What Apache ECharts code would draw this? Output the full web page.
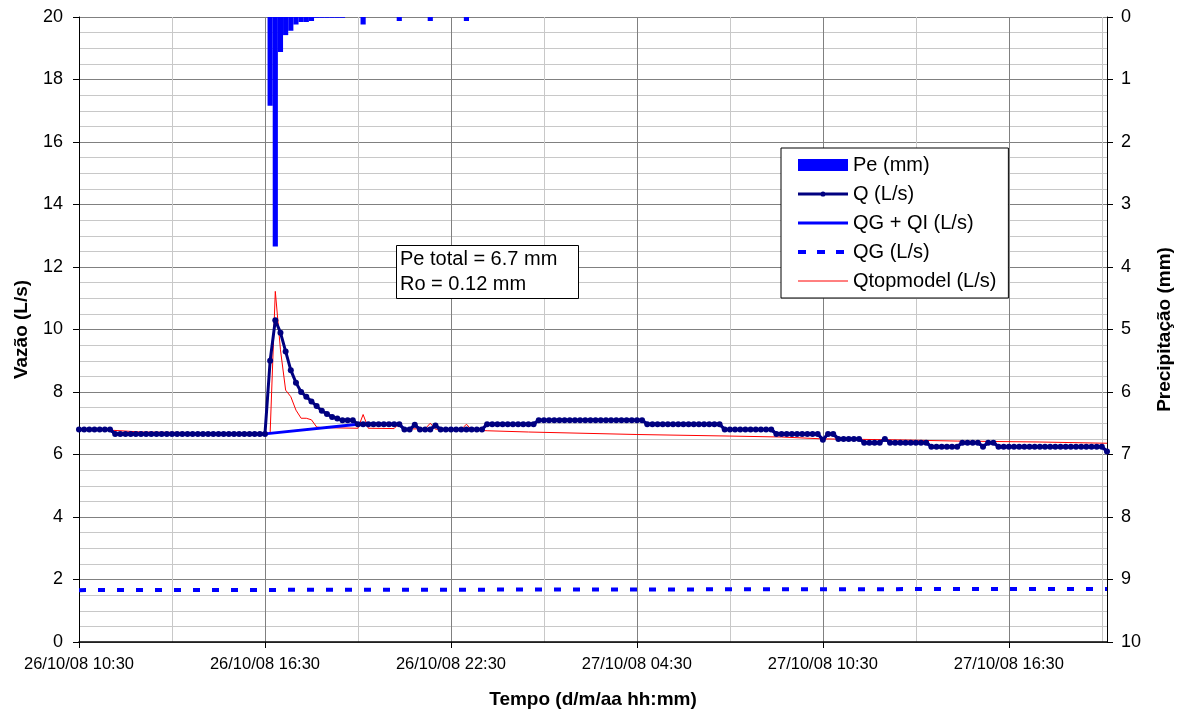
<!DOCTYPE html>
<html>
<head>
<meta charset="utf-8">
<title>Vazão e precipitação</title>
<script src="https://cdn.jsdelivr.net/npm/echarts@6/dist/echarts.min.js"></script>
<style>
  html, body { margin: 0; padding: 0; background: #fff; }
  #main { width: 1187px; height: 716px; }
</style>
</head>
<body>
<div id="main"></div>
<script>
// eixo do tempo: de 10 em 10 minutos, 26/10/08 10:30 ate 27/10/08 19:40
var inicioMin = 10 * 60 + 30;
var passoMin = 10;
var nPassos = 200;

function rotulo(m) {
    var dia = 26 + Math.floor(m / 1440);
    var r = m % 1440;
    var hh = Math.floor(r / 60), mm = r % 60;
    return dia + '/10/08 ' + (hh < 10 ? '0' : '') + hh + ':' + (mm < 10 ? '0' : '') + mm;
}

var tempo = [];
for (var i = 0; i < nPassos; i++) {
    tempo.push(rotulo(inicioMin + i * passoMin));
}

// Q (L/s) observado, um valor por passo de 10 min
var vazaoQ = [
    6.8, 6.8, 6.8, 6.8, 6.8, 6.8, 6.8, 6.66, 6.66, 6.66, 6.66, 6.66,
    6.66, 6.66, 6.66, 6.66, 6.66, 6.66, 6.66, 6.66, 6.66, 6.66, 6.66, 6.66,
    6.66, 6.66, 6.66, 6.66, 6.66, 6.66, 6.66, 6.66, 6.66, 6.66, 6.66, 6.66,
    6.66, 9.0, 10.3, 9.9, 9.3, 8.7, 8.3, 8.0, 7.85, 7.7, 7.55, 7.4,
    7.3, 7.2, 7.15, 7.1, 7.1, 7.1, 6.97, 6.97, 6.97, 6.97, 6.97, 6.97,
    6.97, 6.97, 6.97, 6.8, 6.8, 6.95, 6.8, 6.8, 6.8, 6.93, 6.8, 6.8,
    6.8, 6.8, 6.8, 6.8, 6.8, 6.8, 6.8, 6.97, 6.97, 6.97, 6.97, 6.97,
    6.97, 6.97, 6.97, 6.97, 6.97, 7.1, 7.1, 7.1, 7.1, 7.1, 7.1, 7.1,
    7.1, 7.1, 7.1, 7.1, 7.1, 7.1, 7.1, 7.1, 7.1, 7.1, 7.1, 7.1,
    7.1, 7.1, 6.97, 6.97, 6.97, 6.97, 6.97, 6.97, 6.97, 6.97, 6.97, 6.97,
    6.97, 6.97, 6.97, 6.97, 6.97, 6.8, 6.8, 6.8, 6.8, 6.8, 6.8, 6.8,
    6.8, 6.8, 6.8, 6.66, 6.66, 6.66, 6.66, 6.66, 6.66, 6.66, 6.66, 6.66,
    6.47, 6.66, 6.66, 6.5, 6.5, 6.5, 6.5, 6.5, 6.38, 6.38, 6.38, 6.38,
    6.5, 6.38, 6.38, 6.38, 6.38, 6.38, 6.38, 6.38, 6.38, 6.25, 6.25, 6.25,
    6.25, 6.25, 6.25, 6.38, 6.38, 6.38, 6.38, 6.25, 6.38, 6.38, 6.25, 6.25,
    6.25, 6.25, 6.25, 6.25, 6.25, 6.25, 6.25, 6.25, 6.25, 6.25, 6.25, 6.25,
    6.25, 6.25, 6.25, 6.25, 6.25, 6.25, 6.25, 6.1
];

// Pe (mm) - so os passos com chuva
var peTempo = [
    '26/10/08 16:40', '26/10/08 16:50', '26/10/08 17:00', '26/10/08 17:10',
    '26/10/08 17:20', '26/10/08 17:30', '26/10/08 17:40', '26/10/08 17:50',
    '26/10/08 18:00', '26/10/08 18:10', '26/10/08 18:20', '26/10/08 18:30',
    '26/10/08 18:40', '26/10/08 18:50', '26/10/08 19:00', '26/10/08 19:40',
    '26/10/08 20:50', '26/10/08 21:50', '26/10/08 23:00'
];
var peValor = [
    1.42, 3.67, 0.56, 0.29,
    0.22, 0.12, 0.08, 0.08,
    0.064, 0.013, 0.013, 0.013,
    0.013, 0.013, 0.013, 0.12,
    0.064, 0.064, 0.064
];

// Qtopmodel (L/s)
var qtopTempo = [
    '26/10/08 10:30', '26/10/08 11:30', '26/10/08 12:30', '26/10/08 16:40',
    '26/10/08 16:50', '26/10/08 17:00', '26/10/08 17:10', '26/10/08 17:20',
    '26/10/08 17:30', '26/10/08 17:40', '26/10/08 17:50', '26/10/08 18:00',
    '26/10/08 18:10', '26/10/08 18:20', '26/10/08 19:30', '26/10/08 19:40',
    '26/10/08 19:50', '26/10/08 20:40', '26/10/08 20:50', '26/10/08 21:00',
    '26/10/08 21:40', '26/10/08 21:50', '26/10/08 22:00', '26/10/08 22:50',
    '26/10/08 23:00', '26/10/08 23:10', '26/10/08 23:40', '27/10/08 01:00',
    '27/10/08 04:30', '27/10/08 07:30', '27/10/08 09:10', '27/10/08 10:30',
    '27/10/08 12:50', '27/10/08 14:50', '27/10/08 17:30', '27/10/08 19:40'
];
var qtopValor = [
    6.8, 6.78, 6.72, 6.68,
    11.22, 9.35, 8.06, 7.85,
    7.42, 7.16, 7.16, 7.11,
    6.88, 6.86, 6.84, 7.28,
    6.84, 6.83, 7.0, 6.82,
    6.82, 7.0, 6.81, 6.8,
    6.97, 6.79, 6.76, 6.72,
    6.64, 6.59, 6.56, 6.5,
    6.47, 6.43, 6.4, 6.36
];

// QG (L/s)
var qgTempo = ['26/10/08 10:30', '27/10/08 19:40'];
var qgValor = [1.66, 1.7];

// QG + QI: igual a Q fora do evento; no evento liga 16:30 a 19:30
var eventoIni = '26/10/08 16:30', eventoFim = '26/10/08 19:30';

function pares(t, v) {
    return t.map(function (x, k) { return [x, v[k]]; });
}

var iIni = tempo.indexOf(eventoIni), iFim = tempo.indexOf(eventoFim);
var qgqi = vazaoQ.map(function (v, k) {
    return (k > iIni && k < iFim) ? null : v;
});

var fonte = '"Liberation Sans", Arial, sans-serif';
var semSimbolo = { opacity: 0 };
// linha com bolinha pequena para a legenda do Q
var iconeQ = 'path://M0,0L0,0Z M0,12L0,12Z M0,4.5L50,4.5L50,7.5L0,7.5Z M25,3.4A2.6,2.6,0,1,1,25,8.6A2.6,2.6,0,1,1,25,3.4Z';

var chart = echarts.init(document.getElementById('main'));

var option = {
    backgroundColor: '#ffffff',
    animation: false,
    textStyle: { fontFamily: fonte, color: '#000' },
    title: {
        text: 'Pe total = 6.7 mm\nRo = 0.12 mm',
        left: 396,
        top: 245,
        padding: [2, 21, 2, 4],
        backgroundColor: '#fff',
        borderColor: '#000',
        borderWidth: 1,
        textStyle: { fontFamily: fonte, fontSize: 20, fontWeight: 'normal', lineHeight: 25, color: '#000' }
    },
    legend: {
        orient: 'vertical',
        left: 781,
        top: 148,
        padding: [7, 12, 7, 15],
        itemWidth: 50,
        itemHeight: 12,
        itemGap: 9,
        backgroundColor: '#fff',
        borderColor: '#000',
        borderWidth: 1,
        borderRadius: 0,
        textStyle: { fontFamily: fonte, fontSize: 20, lineHeight: 20, color: '#000' },
        data: [
            { name: 'Pe (mm)', icon: 'rect' },
            { name: 'Q (L/s)', icon: iconeQ },
            { name: 'QG + QI (L/s)', itemStyle: semSimbolo, lineStyle: { width: 3 } },
            { name: 'QG (L/s)', itemStyle: semSimbolo, lineStyle: { width: 4, type: [8, 11] } },
            { name: 'Qtopmodel (L/s)', itemStyle: semSimbolo, lineStyle: { width: 1 } }
        ]
    },
    grid: {
        left: 79,
        right: 80,
        top: 17,
        bottom: 74,
        containLabel: false,
        outerBoundsMode: 'none'
    },
    xAxis: {
        type: 'category',
        data: tempo,
        boundaryGap: false,
        name: 'Tempo (d/m/aa hh:mm)',
        nameLocation: 'middle',
        nameGap: 48,
        nameTextStyle: { fontFamily: fonte, fontSize: 19, fontWeight: 'bold', color: '#000' },
        axisLine: { lineStyle: { color: '#000', width: 1.5 } },
        axisTick: { interval: 35, length: 6, lineStyle: { color: '#000' } },
        axisLabel: {
            interval: 35,
            hideOverlap: false,
            margin: 14,
            fontSize: 16.5,
            color: '#000',
            fontFamily: fonte
        },
        splitLine: {
            show: true,
            interval: 17,
            lineStyle: { color: ['#808080', '#c8c8c8'], width: 1 }
        }
    },
    yAxis: [{
        type: 'value',
        min: 0,
        max: 20,
        interval: 2,
        name: 'Vazão (L/s)',
        nameLocation: 'middle',
        nameGap: 48,
        nameTextStyle: { fontFamily: fonte, fontSize: 19, fontWeight: 'bold', color: '#000' },
        axisLine: { show: true, lineStyle: { color: '#000', width: 1 } },
        axisTick: { show: true, length: 6, lineStyle: { color: '#000' } },
        axisLabel: { fontSize: 18, color: '#000', margin: 16, fontFamily: fonte },
        splitLine: { show: true, lineStyle: { color: '#808080', width: 1 } },
        minorTick: { show: false, splitNumber: 4 },
        minorSplitLine: { show: true, lineStyle: { color: '#c8c8c8', width: 1 } }
    }, {
        type: 'value',
        min: 0,
        max: 10,
        interval: 1,
        inverse: true,
        position: 'right',
        name: 'Precipitação (mm)',
        nameLocation: 'middle',
        nameGap: 48,
        nameTextStyle: { fontFamily: fonte, fontSize: 19, fontWeight: 'bold', color: '#000' },
        axisLine: { show: true, lineStyle: { color: '#000', width: 1 } },
        axisTick: { show: true, length: 6, lineStyle: { color: '#000' } },
        axisLabel: { fontSize: 18, color: '#000', margin: 14, fontFamily: fonte },
        splitLine: { show: false }
    }],
    series: [{
        name: 'Pe (mm)',
        type: 'bar',
        yAxisIndex: 1,
        data: pares(peTempo, peValor),
        barCategoryGap: '0%',
        barWidth: '100%',
        itemStyle: { color: '#0000ff' }
    }, {
        name: 'QG (L/s)',
        type: 'line',
        data: pares(qgTempo, qgValor),
        symbol: 'none',
        lineStyle: { color: '#0000ff', width: 4, type: [7, 12] },
        itemStyle: { color: '#0000ff' }
    }, {
        name: 'Qtopmodel (L/s)',
        type: 'line',
        data: pares(qtopTempo, qtopValor),
        symbol: 'none',
        lineStyle: { color: '#ff0000', width: 1 },
        itemStyle: { color: '#ff0000' }
    }, {
        name: 'QG + QI (L/s)',
        type: 'line',
        data: qgqi,
        connectNulls: true,
        symbol: 'none',
        lineStyle: { color: '#0000ff', width: 3 },
        itemStyle: { color: '#0000ff' }
    }, {
        name: 'Q (L/s)',
        type: 'line',
        data: vazaoQ,
        symbol: 'circle',
        symbolSize: 6,
        showAllSymbol: true,
        lineStyle: { color: '#000080', width: 3 },
        itemStyle: { color: '#000080' }
    }]
};

chart.setOption(option);
</script>
</body>
</html>
